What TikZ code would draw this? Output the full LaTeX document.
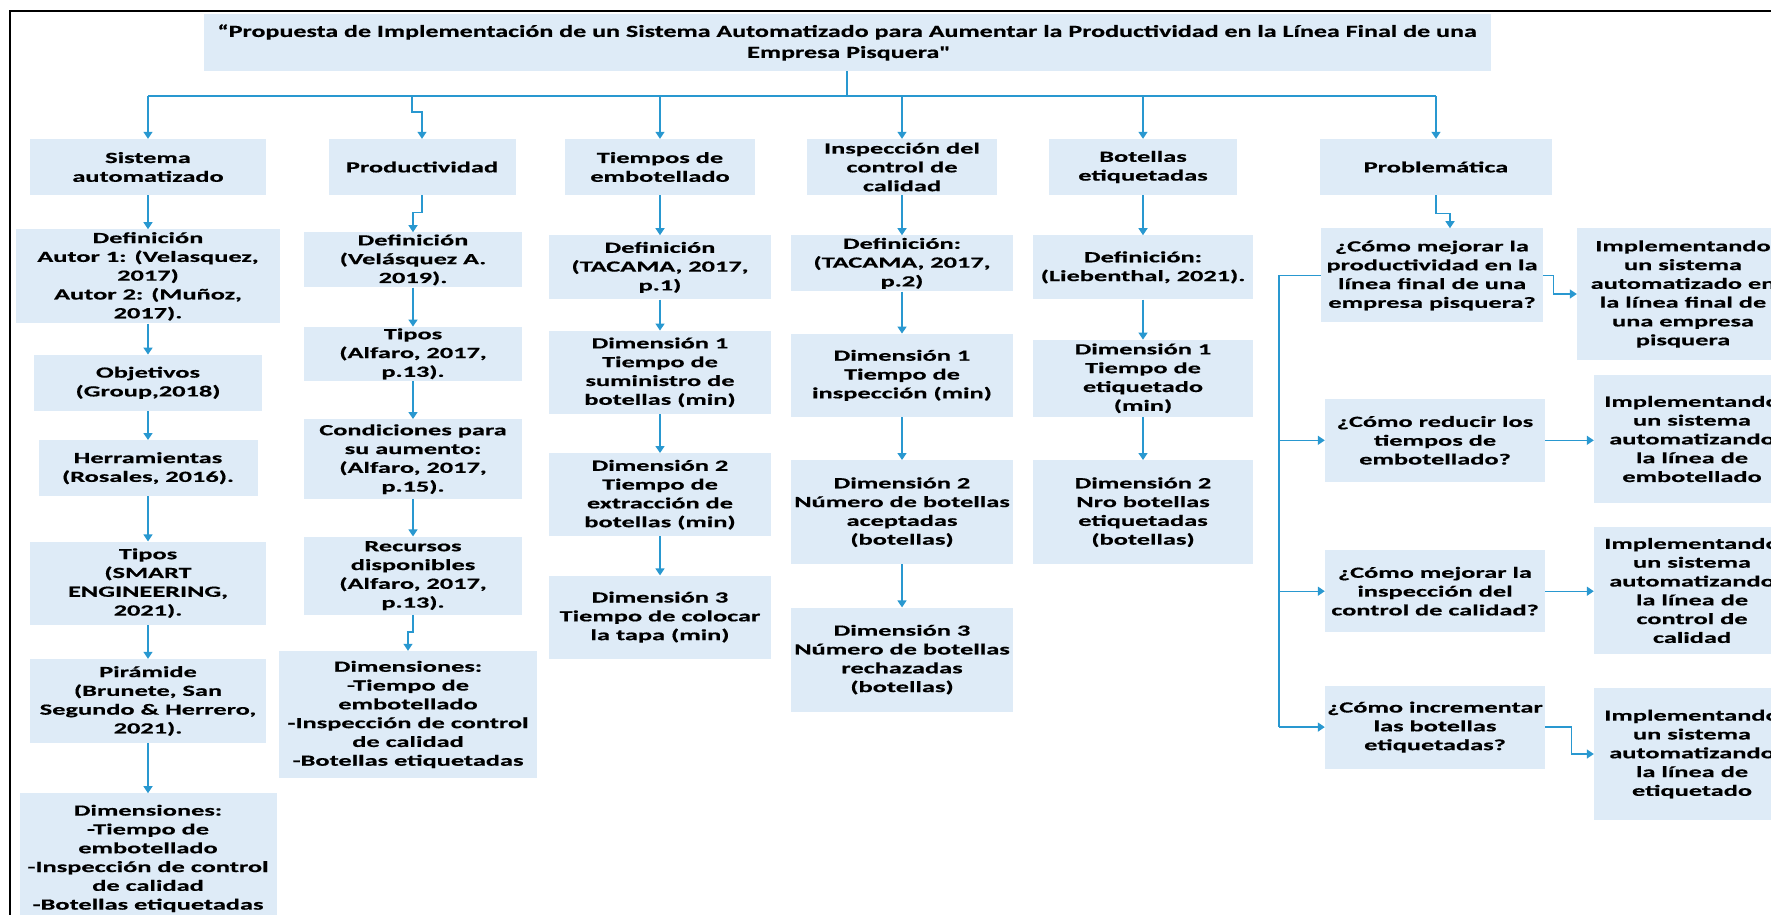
\documentclass[tikz,border=0pt]{standalone}
\usepackage{fontspec}
\setmainfont{Carlito}[FakeStretch=1.7, FakeBold=0.5]
\newfontfamily\titlefont{Carlito}[FakeStretch=1.53, FakeBold=0.5]
\usepackage{tikz}
\usetikzlibrary{arrows.meta, positioning}
\definecolor{boxblue}{RGB}{222,235,247}
\definecolor{linkblue}{RGB}{41,152,208}

\begin{document}
\begin{tikzpicture}[x=1pt, y=-1pt,
  box/.style={
    rectangle, fill=boxblue, align=center, inner sep=1pt,
    font=\fontsize{15.5}{18.8}\selectfont\bfseries
  },
  arrow/.style={-{Triangle[width=9pt,length=7pt]}, line width=1.4pt, linkblue},
  link/.style={line width=1.4pt, linkblue}
]
\useasboundingbox (0,0) rectangle (1771,914);
\draw[line width=2.5pt] (10,11) rectangle (1800,950);

\node[box, minimum width=1287pt, minimum height=57pt,
      font=\titlefont\fontsize{17}{21}\selectfont\bfseries]
  (title) at (847,42.5)
  {“Propuesta de Implementación de un Sistema Automatizado para Aumentar la Productividad en la Línea Final de una\\
   Empresa Pisquera\textquotedbl};

\node[box, minimum width=236pt, minimum height=56pt] (S1) at (148,167)
  {Sistema\\automatizado};
\node[box, minimum width=187pt, minimum height=56pt] (P1) at (422,167)
  {Productividad};
\node[box, minimum width=190pt, minimum height=56pt] (T1) at (660,167)
  {Tiempos de\\embotellado};
\node[box, minimum width=190pt, minimum height=56pt] (I1) at (902,167)
  {Inspección del\\control de\\calidad};
\node[box, minimum width=188pt, minimum height=56pt] (B1) at (1143,167)
  {Botellas\\etiquetadas};
\node[box, minimum width=232pt, minimum height=56pt] (Pr1) at (1436,167)
  {Problemática};

\node[box, below=34pt of S1, minimum width=264pt, minimum height=94pt] (S2)
  {Definición\\Autor 1: (Velasquez,\\2017)\\Autor 2: (Muñoz,\\2017).};
\node[box, below=31pt of S2, minimum width=228pt, minimum height=56pt] (S3)
  {Objetivos\\(Group,2018)};
\node[box, below=29pt of S3, minimum width=219pt, minimum height=56pt] (S4)
  {Herramientas\\(Rosales, 2016).};
\node[box, below=45pt of S4, minimum width=236pt, minimum height=83pt] (S5)
  {Tipos\\(SMART\\ENGINEERING,\\2021).};
\node[box, below=34pt of S5, minimum width=236pt, minimum height=84pt] (S6)
  {Pirámide\\(Brunete, San\\Segundo \& Herrero,\\2021).};
\node[box, below=50pt of S6, minimum width=257pt, minimum height=130pt] (S7)
  {Dimensiones:\\-Tiempo de\\embotellado\\-Inspección de control\\de calidad\\-Botellas etiquetadas};

\node[box, below=37pt of P1, xshift=-9pt, minimum width=218pt, minimum height=55pt] (P2)
  {Definición\\(Velásquez A.\\2019).};
\node[box, below=39pt of P2, minimum width=218pt, minimum height=54pt] (P3)
  {Tipos\\(Alfaro, 2017,\\p.13).};
\node[box, below=38pt of P3, minimum width=218pt, minimum height=80pt] (P4)
  {Condiciones para\\su aumento:\\(Alfaro, 2017,\\p.15).};
\node[box, below=37pt of P4, minimum width=218pt, minimum height=78pt] (P5)
  {Recursos\\disponibles\\(Alfaro, 2017,\\p.13).};
\node[box, below=36pt of P5, xshift=-5pt, minimum width=258pt, minimum height=127pt] (P6)
  {Dimensiones:\\-Tiempo de\\embotellado\\-Inspección de control\\de calidad\\-Botellas etiquetadas};

\node[box, below=40pt of T1, minimum width=222pt, minimum height=64pt] (T2)
  {Definición\\(TACAMA, 2017,\\p.1)};
\node[box, below=31pt of T2, minimum width=222pt, minimum height=83pt] (T3)
  {Dimensión 1\\Tiempo de\\suministro de\\botellas (min)};
\node[box, below=39pt of T3, minimum width=222pt, minimum height=83pt] (T4)
  {Dimensión 2\\Tiempo de\\extracción de\\botellas (min)};
\node[box, below=39pt of T4, minimum width=222pt, minimum height=83pt] (T5)
  {Dimensión 3\\Tiempo de colocar\\la tapa (min)};

\node[box, below=40pt of I1, minimum width=222pt, minimum height=56pt] (I2)
  {Definición:\\(TACAMA, 2017,\\p.2)};
\node[box, below=42pt of I2, minimum width=222pt, minimum height=83pt] (I3)
  {Dimensión 1\\Tiempo de\\inspección (min)};
\node[box, below=43pt of I3, minimum width=222pt, minimum height=104pt] (I4)
  {Dimensión 2\\Número de botellas\\aceptadas\\(botellas)};
\node[box, below=43pt of I4, minimum width=222pt, minimum height=104pt] (I5)
  {Dimensión 3\\Número de botellas\\rechazadas\\(botellas)};

\node[box, below=40pt of B1, minimum width=220pt, minimum height=64pt] (B2)
  {Definición:\\(Liebenthal, 2021).};
\node[box, below=40pt of B2, minimum width=220pt, minimum height=77pt] (B3)
  {Dimensión 1\\Tiempo de\\etiquetado\\(min)};
\node[box, below=43pt of B3, minimum width=220pt, minimum height=104pt] (B4)
  {Dimensión 2\\Nro botellas\\etiquetadas\\(botellas)};

\node[box, below=33pt of Pr1, xshift=-4pt, minimum width=222pt, minimum height=94pt] (Q1)
  {¿Cómo mejorar la\\productividad en la\\línea final de una\\empresa pisquera?};
\node[box, below=76pt of Q1, xshift=3pt, minimum width=220pt, minimum height=83pt] (Q2)
  {¿Cómo reducir los\\tiempos de\\embotellado?};
\node[box, below=68pt of Q2, minimum width=220pt, minimum height=82pt] (Q3)
  {¿Cómo mejorar la\\inspección del\\control de calidad?};
\node[box, below=53pt of Q3, minimum width=220pt, minimum height=83pt] (Q4)
  {¿Cómo incrementar\\las botellas\\etiquetadas?};

\node[box, minimum width=212pt, minimum height=132pt] (A1) at (1683,294)
  {Implementando\\un sistema\\automatizado en\\la línea final de\\una empresa\\pisquera};
\node[box, minimum width=196pt, minimum height=128pt] (A2) at (1692,439)
  {Implementando\\un sistema\\automatizando\\la línea de\\embotellado};
\node[box, minimum width=196pt, minimum height=127pt] (A3) at (1692,590.5)
  {Implementando\\un sistema\\automatizando\\la línea de\\control de\\calidad};
\node[box, minimum width=196pt, minimum height=132pt] (A4) at (1692,754)
  {Implementando\\un sistema\\automatizando\\la línea de\\etiquetado};

\coordinate (bus) at (847,96);
\draw[link] (title.south) -- (bus);
\draw[link] (S1.north |- bus) -- (Pr1.north |- bus);
\foreach \n in {S1,T1,I1,B1,Pr1}
  \draw[arrow] (\n.north |- bus) -- (\n.north);
\draw[arrow] ([xshift=-10pt]P1.north |- bus) -- ++(0,16) -| (P1.north);

\foreach \from/\to in {S1/S2,S2/S3,S3/S4,S4/S5,S5/S6,S6/S7,
                       P2/P3,P3/P4,P4/P5,
                       T1/T2,T2/T3,T3/T4,T4/T5,
                       I1/I2,I2/I3,I3/I4,I4/I5,
                       B1/B2,B2/B3,B3/B4}
  \draw[arrow] (\from) -- (\to);
\draw[arrow] (P1.south) -- ++(0,17) -| (P2.north);
\draw[arrow] (P5.south) -- ++(0,17) -| (P6.north);
\draw[arrow] (Pr1.south) -- ++(0,18) -| ([xshift=18pt]Q1.north);

\coordinate (brk) at (1279,275);
\draw[link] (Q1.west) -- (Q1.west -| brk) -- (Q4.west -| brk);
\foreach \q in {Q2,Q3,Q4}
  \draw[arrow] (\q.west -| brk) -- (\q.west);

\draw[arrow] (Q1.east) -- ++(10,0) |- (A1.west);
\draw[arrow] (Q2.east) -- (A2.west |- Q2.east);
\draw[arrow] (Q3.east) -- (A3.west |- Q3.east);
\draw[arrow] (Q4.east) -- ++(26,0) |- (A4.west);
\end{tikzpicture}
\end{document}
